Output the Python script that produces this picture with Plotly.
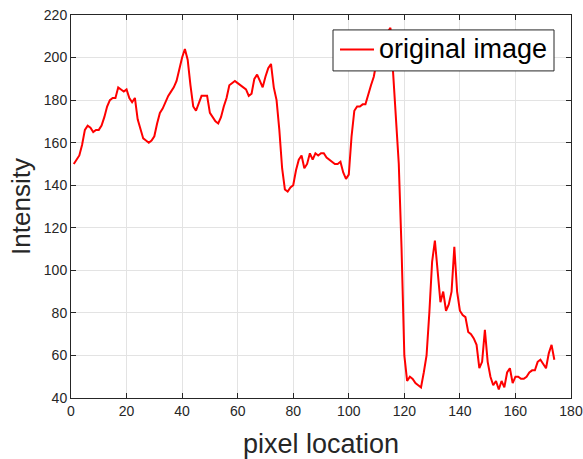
import plotly.graph_objects as go

# Intensity profile along one image row
pixel_location = list(range(1, 175))
intensity = [
    150, 152, 154, 159, 166, 168, 167, 165, 166, 166,
    168, 172, 177, 180, 181, 181, 186, 185, 184, 185,
    181, 179, 181, 171, 166, 162, 161, 160, 161, 163,
    169, 174, 176, 179, 182, 184, 186, 189, 195, 200,
    204, 199, 187, 177, 175, 179, 182, 182, 182, 174,
    172, 170, 169, 172, 177, 181, 187, 188, 189, 188,
    187, 186, 185, 182, 183, 190, 192, 189, 186, 191,
    195, 197, 186, 180, 166, 148, 138, 137, 139, 140,
    147, 152, 154, 148, 150, 155, 152, 155, 154, 155,
    155, 153, 152, 151, 150, 150, 151, 146, 143, 145,
    163, 175, 177, 177, 178, 178, 183, 187, 191, 198,
    203, 207, 210, 212, 214, 192, 168, 150, 110, 60,
    48, 50, 49, 47, 46, 45, 52, 60, 80, 104,
    114, 100, 85, 90, 81, 84, 90, 111, 90, 81,
    79, 78, 71, 70, 68, 65, 54, 57, 72, 57,
    50, 46, 48, 44, 48, 45, 52, 54, 47, 50,
    50, 49, 49, 50, 52, 53, 53, 57, 58, 56,
    54, 61, 65, 58,
]
series_name = "original image"

x_ticks = list(range(0, 181, 20))
y_ticks = list(range(40, 221, 20))

AXIS_COLOR = "#262626"
GRID_COLOR = "#e3e3e3"
LINE_COLOR = "#ff0000"
FONT = "Liberation Sans, Arial, sans-serif"

fig = go.Figure()
fig.add_trace(go.Scatter(
    x=pixel_location,
    y=intensity,
    mode="lines",
    line=dict(color=LINE_COLOR, width=2),
    name=series_name,
    showlegend=False,
))

axis_common = dict(
    showline=True,
    linecolor=AXIS_COLOR,
    linewidth=1,
    mirror="ticks",
    ticks="inside",
    ticklen=5,
    tickwidth=1,
    tickcolor=AXIS_COLOR,
    showgrid=True,
    gridcolor=GRID_COLOR,
    gridwidth=1,
    zeroline=False,
    automargin=False,
    tickfont=dict(family=FONT, size=14, color=AXIS_COLOR),
)

fig.update_xaxes(
    range=[0, 180],
    tickvals=x_ticks,
    title=dict(text="pixel location", font=dict(family=FONT, size=27, color=AXIS_COLOR), standoff=17),
    **axis_common,
)
fig.update_yaxes(
    range=[40, 220],
    tickvals=y_ticks,
    title=dict(text="Intensity", font=dict(family=FONT, size=26, color=AXIS_COLOR), standoff=5),
    **axis_common,
)

# Compact boxed legend in the upper right corner of the axes
legend_box = dict(x0=0.524, x1=0.966, y0=0.854, y1=0.961)
legend_row_y = 0.910
fig.add_shape(
    type="rect", xref="paper", yref="paper",
    **legend_box,
    line=dict(color=AXIS_COLOR, width=1),
    fillcolor="white",
    layer="above",
)
fig.add_shape(
    type="line", xref="paper", yref="paper",
    x0=0.538, x1=0.606, y0=legend_row_y, y1=legend_row_y,
    line=dict(color=LINE_COLOR, width=2),
    layer="above",
)
fig.add_annotation(
    xref="paper", yref="paper",
    x=0.611, y=legend_row_y,
    xanchor="left", yanchor="middle",
    text=series_name,
    showarrow=False,
    font=dict(family=FONT, size=27, color="black"),
)

fig.update_layout(
    width=583,
    height=459,
    margin=dict(l=71, r=12, t=15, b=61, autoexpand=False),
    paper_bgcolor="white",
    plot_bgcolor="white",
    showlegend=False,
)

fig.write_html("out.html")
